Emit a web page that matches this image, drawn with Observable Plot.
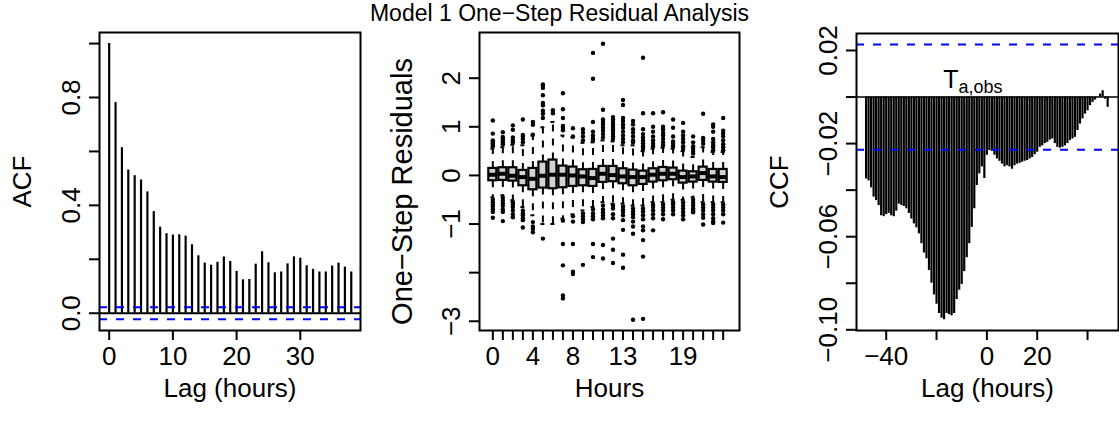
<!DOCTYPE html>
<html><head><meta charset="utf-8">
<script src="https://cdn.jsdelivr.net/npm/d3@7"></script>
<script src="https://cdn.jsdelivr.net/npm/@observablehq/plot@0.6"></script>
<style>
html,body{margin:0;padding:0;background:#fff;}
#wrap{position:relative;width:1119px;height:423px;overflow:hidden;font-family:"Liberation Sans",Arial,Helvetica,sans-serif;}
.panel{position:absolute;top:0;}
#title{position:absolute;left:0;top:0;width:1119px;text-align:center;font-size:23px;line-height:26px;z-index:5;color:#000;pointer-events:none;}
</style></head><body>
<div id="wrap">
  <div id="p1" class="panel" style="left:0px"></div>
  <div id="p2" class="panel" style="left:373px"></div>
  <div id="p3" class="panel" style="left:746px"></div>
  <div id="title">Model 1 One−Step Residual Analysis</div>
</div>
<script>
// ---------- Data ----------
// Panel 1: ACF of one-step residuals, lags 0..38
const acfValues = [1.0, 0.781, 0.614, 0.531, 0.510, 0.494, 0.450, 0.377, 0.319, 0.295,
  0.290, 0.291, 0.286, 0.254, 0.213, 0.186, 0.178, 0.189, 0.209, 0.192,
  0.155, 0.124, 0.125, 0.182, 0.228, 0.187, 0.150, 0.153, 0.183, 0.209,
  0.204, 0.176, 0.163, 0.153, 0.153, 0.175, 0.186, 0.171, 0.153];
const acfBound = 0.0222;
const acfXTicks = [0, 10, 20, 30];
const acfYTicks = [0, 0.2, 0.4, 0.6, 0.8, 1.0];
const acfYLabelled = [0, 0.4, 0.8];

// Panel 2: residual boxplots by hour 0..23
const hours = [0,1,2,3,4,5,6,7,8,9,10,11,12,13,14,15,16,17,18,19,20,21,22,23];
const hourLabelled = [0, 4, 8, 13, 19];
const boxQ1  = [-0.110,-0.103,-0.117,-0.213,-0.295,-0.261,-0.274,-0.254,-0.226,-0.213,-0.226,-0.144,-0.130,-0.171,-0.213,-0.185,-0.137,-0.110,-0.089,-0.158,-0.137,-0.103,-0.137,-0.144];
const boxMed = [0.014,0.034,-0.007,-0.034,-0.069,-0.007,0.014,0.014,0.000,-0.021,-0.055,0.034,0.007,-0.021,-0.034,-0.034,0.014,0.034,0.034,-0.034,-0.021,0.048,-0.021,-0.034];
const boxQ3  = [0.144,0.158,0.158,0.103,0.144,0.274,0.316,0.192,0.172,0.117,0.123,0.185,0.185,0.137,0.110,0.089,0.137,0.164,0.151,0.089,0.075,0.171,0.123,0.123];
const whiskHi = [0.55,0.58,0.63,0.62,0.82,0.99,1.10,0.82,0.78,0.67,0.68,0.72,0.70,0.62,0.62,0.50,0.55,0.57,0.55,0.50,0.38,0.58,0.48,0.48];
const whiskLo = [-0.45,-0.41,-0.51,-0.65,-0.82,-1.00,-1.00,-0.89,-0.80,-0.72,-0.65,-0.55,-0.58,-0.58,-0.62,-0.62,-0.55,-0.55,-0.50,-0.50,-0.45,-0.55,-0.55,-0.55];
const outliersHi = [
  [0.60,0.63,0.66,0.70,0.72,0.86,1.13],
  [0.64,0.68,0.72,0.76,0.79,0.89],
  [0.68,0.72,0.78,0.94,1.03],
  [0.68,0.75,0.80,0.83,1.15],
  [0.84,1.04,1.10],
  [1.18,1.27,1.33,1.44,1.49,1.65,1.80,1.85,1.87],
  [1.28,1.34],
  [0.93,0.98,1.02,1.18,1.36,1.69],
  [0.80,0.97],
  [0.72,0.80,0.88,0.95],
  [0.72,0.76,0.82,0.90,1.10,1.99,2.52],
  [0.78,0.85,0.92,0.98,1.05,1.10,1.15,1.35,2.71],
  [0.75,0.80,0.85,0.90,0.95,1.00,1.05,1.10,1.15,1.20],
  [0.68,0.75,0.82,0.90,0.98,1.05,1.12,1.18,1.45,1.55],
  [0.68,0.72,0.80,0.88,0.95,1.05,1.12],
  [0.55,0.60,0.66,0.72,0.78,0.85,0.95,1.28,2.42],
  [0.60,0.65,0.72,0.80,0.90,1.00,1.28],
  [0.62,0.68,0.75,0.82,0.88,0.95,1.00,1.30],
  [0.60,0.65,0.70,0.80,0.98,1.15],
  [0.55,0.60,0.68,0.75,0.82,0.90,1.08],
  [0.45,0.50,0.55,0.60,0.68,0.80],
  [0.65,0.72,0.77,1.27],
  [0.52,0.58,0.62,0.68,0.75,0.90,1.00,1.05],
  [0.52,0.58,0.64,0.72,0.80,0.86,0.92,1.18]
];
const outliersLo = [
  [-0.50,-0.55,-0.60,-0.64,-0.70,-0.75,-0.87],
  [-0.46,-0.52,-0.58,-0.63,-0.70,-0.75,-0.94],
  [-0.55,-0.60,-0.65,-0.72,-0.80,-0.86],
  [-0.72,-0.78,-0.82,-0.88,-0.92,-1.07],
  [-0.96,-1.05,-1.10,-1.17],
  [-1.30],
  [],
  [-0.93,-1.41,-1.85,-2.47,-2.53],
  [-0.84,-0.95,-1.41,-1.98,-2.03],
  [-0.78,-0.84,-0.90,-0.96,-1.84],
  [-0.70,-0.78,-0.84,-0.90,-1.41,-1.68],
  [-0.62,-0.70,-0.76,-0.82,-0.88,-1.43,-1.71],
  [-0.62,-0.68,-0.80,-0.88,-1.30,-1.53,-1.80],
  [-0.64,-0.70,-0.75,-0.82,-0.92,-1.12,-1.63,-1.90],
  [-0.68,-0.74,-0.80,-0.86,-0.95,-1.05,-1.20,-2.97],
  [-0.68,-0.74,-0.82,-0.90,-1.05,-1.13,-1.33,-1.67,-2.95],
  [-0.60,-0.65,-0.72,-0.80,-0.88,-1.13],
  [-0.60,-0.66,-0.72,-0.80,-0.90],
  [-0.55,-0.60,-0.66,-0.72,-0.80],
  [-0.55,-0.62,-0.68,-0.75,-0.82,-0.90],
  [-0.50,-0.56,-0.62,-0.68,-0.72,-0.76],
  [-0.60,-0.66,-0.72,-0.80,-0.87,-1.01],
  [-0.60,-0.66,-0.72,-0.80,-0.88,-0.95,-0.98],
  [-0.60,-0.66,-0.72,-0.80,-0.97]
];
const boxYTicks = [-3, -2, -1, 0, 1, 2];
const boxYLabelled = [-3, -1, 0, 1, 2];

// Panel 3: CCF, lags -48..48
const ccfLagStart = -48;
const ccfValues = [
  -0.0352,-0.0360,-0.0390,-0.0430,-0.0445,-0.0466,-0.0510,-0.0514,-0.0505,-0.0500,
  -0.0510,-0.0514,-0.0490,-0.0460,-0.0466,-0.0470,-0.0480,-0.0500,-0.0524,-0.0545,
  -0.0562,-0.0588,-0.0630,-0.0670,-0.0695,-0.0745,-0.0800,-0.0850,-0.0890,-0.0930,
  -0.0950,-0.0957,-0.0930,-0.0935,-0.0940,-0.0930,-0.0870,-0.0830,-0.0805,-0.0750,
  -0.0690,-0.0630,-0.0560,-0.0480,-0.0380,-0.0330,-0.0300,-0.0350,-0.0250,-0.0230,
  -0.0233,-0.0250,-0.0266,-0.0276,-0.0288,-0.0300,-0.0295,-0.0300,-0.0310,-0.0295,
  -0.0288,-0.0285,-0.0280,-0.0276,-0.0273,-0.0266,-0.0260,-0.0248,-0.0237,-0.0216,
  -0.0210,-0.0200,-0.0195,-0.0185,-0.0180,-0.0200,-0.0216,-0.0220,-0.0216,-0.0210,
  -0.0200,-0.0187,-0.0180,-0.0173,-0.0144,-0.0116,-0.0094,-0.0073,-0.0059,-0.0037,
  -0.0023,-0.0013,-0.0001,0.0013,0.0027,-0.0009,-0.0044];
const ccfBound = 0.0226;
const ccfXTicks = [-40, -20, 0, 20, 40];
const ccfXLabelled = [-40, 0, 20];
const ccfYTicks = [-0.10, -0.08, -0.06, -0.04, -0.02, 0, 0.02];
const ccfYLabelled = [-0.10, -0.06, -0.02, 0.02];
const ccfNote = {main: "T", sub: "a,obs", lag: -11.3, value: 0.0041};

// ---------- Helpers ----------
const FONT = "Liberation Sans, Arial, Helvetica, sans-serif";
const FS = 26;
const minus = s => s.replace("-", "\u2212");
const baseStyle = {fontFamily: FONT, fontSize: FS + "px", background: "transparent", overflow: "visible", color: "black"};

function xAxis(ticks, labelled, fmt) {
  return Plot.axisX({ticks, tickSize: 10, tickPadding: 6, fontSize: FS, strokeWidth: 2, label: null,
    tickFormat: d => labelled.includes(d) ? minus(fmt(d)) : ""});
}
function yAxis(ticks, labelled, fmt) {
  return Plot.axisY({ticks, tickSize: 10, tickPadding: 10, tickRotate: -90, fontSize: FS, strokeWidth: 2, label: null,
    tickFormat: d => labelled.includes(d) ? minus(fmt(d)) : ""});
}
function titles(xt, yt, yFs = FS, yDy = 0) {
  return [
    Plot.text([xt], {text: d => d, frameAnchor: "bottom", dy: 66, fontSize: FS, textAnchor: "middle"}),
    Plot.text([yt], {text: d => d, frameAnchor: "left", dx: -77, dy: yDy, rotate: -90, fontSize: yFs, textAnchor: "middle"})
  ];
}

// ---------- Panel 1 ----------
const acfTable = acfValues.map((v, i) => ({lag: i, acf: v}));
const p1 = Plot.plot({
  width: 373, height: 423, marginLeft: 99, marginRight: 13, marginTop: 32, marginBottom: 93,
  style: baseStyle,
  x: {domain: [-1.52, 39.45]},
  y: {domain: [-0.064, 1.041]},
  marks: [
    Plot.ruleY([0], {strokeWidth: 2}),
    Plot.ruleX(acfTable, {x: "lag", y1: 0, y2: "acf", strokeWidth: 2.2}),
    Plot.ruleY([acfBound, -acfBound], {stroke: "#0000ff", strokeWidth: 2, strokeDasharray: "8,9"}),
    Plot.frame({strokeWidth: 2}),
    xAxis(acfXTicks, acfXTicks, d3.format("d")),
    yAxis(acfYTicks, acfYLabelled, d3.format(".1f")),
    ...titles("Lag (hours)", "ACF")
  ]
});
document.getElementById("p1").appendChild(p1);

// ---------- Panel 2 ----------
const boxes = hours.map((h, i) => ({hour: h, q1: boxQ1[i], med: boxMed[i], q3: boxQ3[i], lo: whiskLo[i], hi: whiskHi[i]}));
const outliers = hours.flatMap((h, i) => [...outliersHi[i], ...outliersLo[i]].map(v => ({hour: h, value: v})));
const p2 = Plot.plot({
  width: 373, height: 423, marginLeft: 106, marginRight: 7, marginTop: 32, marginBottom: 93,
  style: baseStyle,
  x: {domain: [-1.33, 24.63]},
  y: {domain: [-3.19, 2.94]},
  marks: [
    Plot.ruleX(boxes, {x: "hour", y1: "q3", y2: "hi", strokeWidth: 2, strokeDasharray: "7,7"}),
    Plot.ruleX(boxes, {x: "hour", y1: "q1", y2: "lo", strokeWidth: 2, strokeDasharray: "7,7"}),
    Plot.ruleY(boxes, {y: "hi", x1: d => d.hour - 0.2, x2: d => d.hour + 0.2, strokeWidth: 2}),
    Plot.ruleY(boxes, {y: "lo", x1: d => d.hour - 0.2, x2: d => d.hour + 0.2, strokeWidth: 2}),
    Plot.rect(boxes, {x1: d => d.hour - 0.4, x2: d => d.hour + 0.4, y1: "q1", y2: "q3", fill: "#d3d3d3", stroke: "black", strokeWidth: 2.2}),
    Plot.ruleY(boxes, {y: "med", x1: d => d.hour - 0.4, x2: d => d.hour + 0.4, strokeWidth: 4}),
    Plot.dot(outliers, {x: "hour", y: "value", r: 2.2, fill: "black", stroke: null}),
    Plot.frame({strokeWidth: 2}),
    xAxis(hours, hourLabelled, d3.format("d")),
    yAxis(boxYTicks, boxYLabelled, d3.format("d")),
    ...titles("Hours", "One\u2212Step Residuals", 29, 10)
  ]
});
document.getElementById("p2").appendChild(p2);

// ---------- Panel 3 ----------
const ccfTable = ccfValues.map((v, i) => ({lag: ccfLagStart + i, ccf: v}));
const p3 = Plot.plot({
  width: 373, height: 423, marginLeft: 110, marginRight: 1, marginTop: 33, marginBottom: 93,
  style: baseStyle,
  x: {domain: [-51.8, 52.3]},
  y: {domain: [-0.1003, 0.0273]},
  marks: [
    Plot.ruleX(ccfTable, {x: "lag", y1: 0, y2: "ccf", strokeWidth: 2.2}),
    Plot.ruleY([0], {strokeWidth: 1.5}),
    Plot.ruleY([ccfBound, -ccfBound], {stroke: "#0000ff", strokeWidth: 2, strokeDasharray: "8,9"}),
    Plot.text([ccfNote], {x: "lag", y: "value", text: "main", textAnchor: "end", lineAnchor: "bottom", fontSize: 25}),
    Plot.text([ccfNote], {x: "lag", y: "value", text: "sub", textAnchor: "start", lineAnchor: "bottom", dy: 5, fontSize: 18}),
    Plot.frame({strokeWidth: 2}),
    xAxis(ccfXTicks, ccfXLabelled, d3.format("d")),
    yAxis(ccfYTicks, ccfYLabelled, d3.format(".2f")),
    ...titles("Lag (hours)", "CCF")
  ]
});
document.getElementById("p3").appendChild(p3);
</script>
</body></html>
